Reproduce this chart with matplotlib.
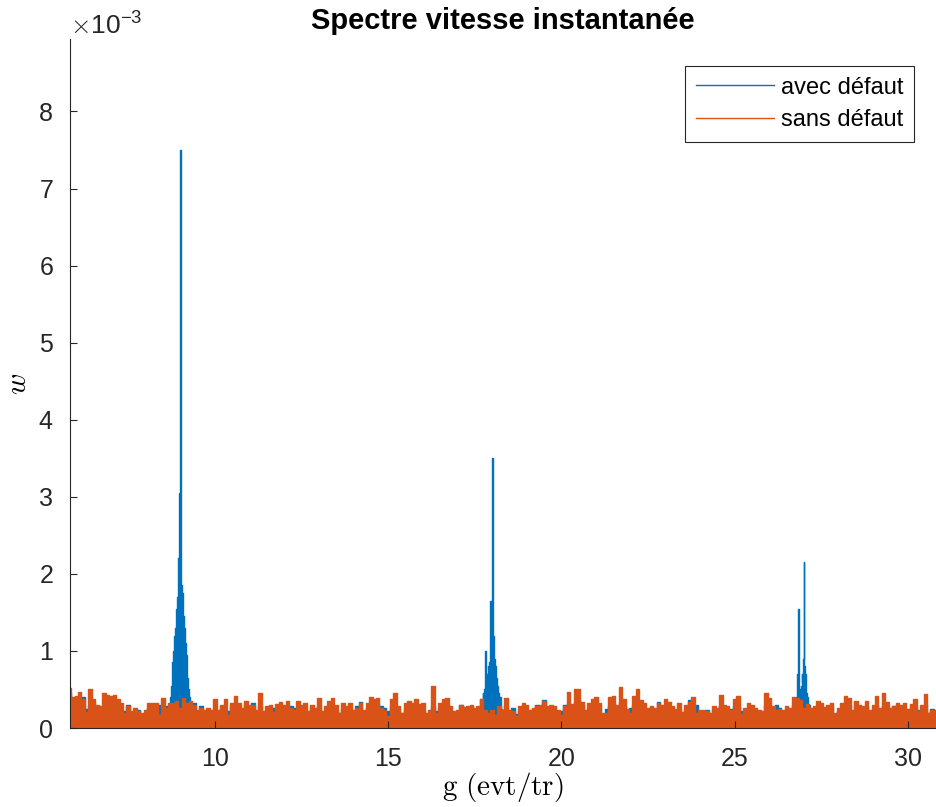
import numpy as np
import matplotlib
matplotlib.use('Agg')
import matplotlib.pyplot as plt
from matplotlib.ticker import ScalarFormatter

# frequency grid of the noise floor (evt/tr), 0.1 step
f_start, f_step = 5.8, 0.1

# "sans defaut" spectrum, values in 1e-3
sans_defaut = [
    0.52, 0.40, 0.41, 0.47, 0.38, 0.21, 0.51, 0.37, 0.30, 0.28,
    0.46, 0.43, 0.41, 0.43, 0.37, 0.32, 0.19, 0.28, 0.22, 0.26,
    0.22, 0.19, 0.24, 0.32, 0.33, 0.32, 0.17, 0.39, 0.26, 0.32,
    0.32, 0.35, 0.26, 0.39, 0.32, 0.35, 0.30, 0.24, 0.26, 0.24,
    0.26, 0.24, 0.37, 0.24, 0.30, 0.37, 0.17, 0.32, 0.41, 0.32,
    0.26,
    0.35, 0.30, 0.30, 0.24, 0.45, 0.22, 0.28, 0.30, 0.21, 0.31,
    0.34, 0.30, 0.35, 0.26, 0.23, 0.35, 0.30, 0.32, 0.22, 0.30,
    0.26, 0.39, 0.22, 0.28, 0.35, 0.39, 0.30, 0.19, 0.33, 0.28,
    0.33, 0.24, 0.26, 0.32, 0.24, 0.32, 0.40, 0.38, 0.39, 0.26,
    0.24, 0.15, 0.37, 0.45, 0.28, 0.20, 0.32, 0.35, 0.33,
    0.37, 0.31, 0.32, 0.20, 0.24, 0.54, 0.20, 0.32, 0.37, 0.39,
    0.28, 0.22, 0.24, 0.30, 0.27, 0.28, 0.30, 0.26, 0.28, 0.37,
    0.24, 0.20, 0.24, 0.17, 0.28, 0.23, 0.39, 0.24, 0.22, 0.15,
    0.28, 0.33, 0.30, 0.24, 0.26, 0.28, 0.30, 0.35, 0.28, 0.30,
    0.28, 0.24, 0.17, 0.28, 0.47, 0.31, 0.50, 0.51, 0.34, 0.24,
    0.32, 0.37, 0.40, 0.32, 0.19, 0.20, 0.40, 0.42, 0.30, 0.53,
    0.37, 0.25, 0.19, 0.42, 0.50, 0.36, 0.32, 0.26, 0.28, 0.26,
    0.33, 0.30, 0.37, 0.34, 0.28, 0.25, 0.32, 0.21, 0.30, 0.34,
    0.40, 0.20, 0.24, 0.24, 0.22, 0.19, 0.28, 0.26, 0.43, 0.30,
    0.28, 0.24, 0.37, 0.42, 0.18, 0.26, 0.33, 0.30, 0.26,
    0.24, 0.22, 0.46, 0.39, 0.28, 0.24, 0.25, 0.24, 0.28, 0.26,
    0.40, 0.39, 0.36, 0.26, 0.31, 0.26, 0.28, 0.35, 0.32, 0.27,
    0.30, 0.33, 0.20, 0.26, 0.32, 0.41, 0.39, 0.23, 0.35, 0.30,
    0.28, 0.35, 0.24, 0.30, 0.41, 0.26, 0.45, 0.34, 0.26, 0.28,
    0.32, 0.30, 0.32, 0.25, 0.31, 0.38, 0.22, 0.30, 0.44, 0.20,
    0.24, 0.24,
]

# "avec defaut" noise floor on the same grid, values in 1e-3
avec_defaut_bruit = [
    0.45, 0.35, 0.38, 0.40, 0.40, 0.25, 0.30, 0.32, 0.26, 0.22,
    0.30, 0.35, 0.30, 0.28, 0.25, 0.24, 0.22, 0.30, 0.20, 0.22,
    0.24, 0.18, 0.20, 0.26, 0.22, 0.28, 0.30, 0.26, 0.28, 0.25,
    0.30, 0.30, 0.30, 0.30, 0.30, 0.30, 0.33, 0.22, 0.28, 0.20,
    0.24, 0.22, 0.25, 0.22, 0.26, 0.24, 0.22, 0.28, 0.30, 0.25,
    0.24,
    0.30, 0.26, 0.32, 0.20, 0.28, 0.20, 0.24, 0.26, 0.26, 0.24,
    0.26, 0.24, 0.28, 0.28, 0.26, 0.26, 0.22, 0.24, 0.20, 0.26,
    0.22, 0.28, 0.20, 0.24, 0.28, 0.30, 0.24, 0.20, 0.26, 0.24,
    0.26, 0.22, 0.28, 0.34, 0.22, 0.26, 0.30, 0.28, 0.32, 0.28,
    0.26, 0.22, 0.28, 0.30, 0.22, 0.20, 0.26, 0.28, 0.26,
    0.30, 0.26, 0.24, 0.18, 0.20, 0.28, 0.22, 0.26, 0.28, 0.30,
    0.24, 0.20, 0.22, 0.30, 0.24, 0.26, 0.28, 0.22, 0.26, 0.30,
    0.30, 0.30, 0.30, 0.30, 0.30, 0.24, 0.30, 0.22, 0.26,
    0.18, 0.24, 0.26, 0.24, 0.22, 0.24, 0.30, 0.24, 0.36, 0.24,
    0.26, 0.24, 0.22, 0.22, 0.30, 0.32, 0.26, 0.34, 0.36, 0.30,
    0.22,
    0.26, 0.30, 0.32, 0.26, 0.18, 0.25, 0.30, 0.32, 0.26, 0.34,
    0.28, 0.22, 0.26, 0.30, 0.32, 0.28, 0.26, 0.22, 0.24, 0.24,
    0.34, 0.26, 0.30, 0.28, 0.24, 0.22, 0.24, 0.20, 0.24, 0.36,
    0.30, 0.30, 0.22, 0.20, 0.24, 0.18, 0.24, 0.22, 0.30, 0.26,
    0.24, 0.25, 0.28, 0.30, 0.22, 0.22, 0.26, 0.24, 0.22,
    0.22, 0.20, 0.30, 0.30, 0.26, 0.30, 0.26, 0.22, 0.24, 0.22,
    0.30, 0.30, 0.30, 0.30, 0.30, 0.22, 0.24, 0.28, 0.26, 0.24,
    0.26, 0.28, 0.18, 0.22, 0.26, 0.30, 0.30, 0.20, 0.28, 0.24,
    0.24, 0.28, 0.22, 0.24, 0.30, 0.22, 0.30, 0.26, 0.22, 0.29,
    0.26, 0.24, 0.26, 0.22, 0.26, 0.28, 0.23, 0.24, 0.30, 0.20,
    0.25, 0.22,
]

# defect harmonics of "avec defaut" (start freq, 0.02 step), values in 1e-3
pic_step = 0.02
pic1_start = 8.70
pic1 = [0.30, 0.40, 0.55, 0.70, 0.85, 1.00, 1.10, 1.20, 1.30, 1.40,
        1.55, 1.70, 1.80, 2.20, 3.05, 7.50, 2.20, 1.85, 1.75, 1.60,
        1.45, 1.30, 1.20, 1.10, 0.95, 0.80, 0.65, 0.50, 0.40, 0.35,
        0.30]
pic2_start = 17.70
pic2 = [0.38, 0.30, 0.45, 0.40, 0.50, 0.60, 1.00, 0.55, 0.70, 0.65,
        0.80, 0.85, 0.90, 1.65, 1.10, 1.45, 3.50, 1.20, 0.90, 0.85,
        0.80, 0.65, 0.60, 0.55, 0.45, 0.40, 0.35, 0.40, 0.25]
pic3_start = 26.76
pic3 = [0.30, 0.40, 0.45, 0.70, 1.55, 0.55, 0.45, 0.50, 0.55, 0.70,
        0.60, 0.90, 2.15, 0.80, 0.70, 0.55, 0.45, 0.40, 0.30]

BLUE = '#0072BD'
ORANGE = '#D95319'
DARK = '#262626'

# build the frequency axes
f_grid = np.round(f_start + f_step * np.arange(len(sans_defaut)), 2)
y_sans = np.array(sans_defaut) * 1e-3

f_av = f_grid[:len(avec_defaut_bruit)].copy()
y_av = np.array(avec_defaut_bruit[:len(f_av)]) * 1e-3
keep = np.ones(len(f_av), dtype=bool)
pf_list, py_list = [], []
for start, vals in [(pic1_start, pic1), (pic2_start, pic2), (pic3_start, pic3)]:
    pf = np.round(start + pic_step * np.arange(len(vals)), 3)
    keep &= ~((f_av >= pf[0]) & (f_av <= pf[-1]))
    pf_list.append(pf)
    py_list.append(np.array(vals) * 1e-3)
f_av = np.concatenate([f_av[keep]] + pf_list)
y_av = np.concatenate([y_av[keep]] + py_list)
order = np.argsort(f_av)
f_av, y_av = f_av[order], y_av[order]

plt.rcParams['font.family'] = ['Liberation Sans', 'DejaVu Sans']
plt.rcParams['mathtext.fontset'] = 'cm'
plt.rcParams['axes.unicode_minus'] = False

fig = plt.figure(figsize=(9.36, 8.07), dpi=100)
ax = fig.add_axes([70 / 936, 79 / 807, 866 / 936, 689 / 807])

ax.fill_between(f_av, 0, y_av, step='mid', color=BLUE, linewidth=0, zorder=1.0)
ax.plot(f_av, y_av, drawstyle='steps-mid', color=BLUE, linewidth=1.0,
        label='avec défaut', zorder=1.1)
ax.fill_between(f_grid, 0, y_sans, step='mid', color=ORANGE, linewidth=0, zorder=1.2)
ax.plot(f_grid, y_sans, drawstyle='steps-mid', color=ORANGE, linewidth=1.0,
        label='sans défaut', zorder=1.3)

ax.set_xlim(5.82, 30.81)
ax.set_ylim(0, 8.94e-3)
ax.set_xticks([10, 15, 20, 25, 30])
ax.set_yticks(np.arange(0, 9) * 1e-3)

fmt = ScalarFormatter(useMathText=True)
fmt.set_powerlimits((-2, 2))
ax.yaxis.set_major_formatter(fmt)
ax.yaxis.get_offset_text().set_fontsize(19)
ax.yaxis.get_offset_text().set_color(DARK)

ax.tick_params(direction='in', length=5, width=0.8, labelsize=18, colors=DARK)
ax.tick_params(axis='x', pad=14)
ax.tick_params(axis='y', pad=12)
ax.spines['top'].set_visible(False)
ax.spines['right'].set_visible(False)
for s in ['left', 'bottom']:
    ax.spines[s].set_color(DARK)
    ax.spines[s].set_linewidth(0.8)

ax.set_title('Spectre vitesse instantanée', fontsize=21, fontweight='bold', pad=7)
ax.set_xlabel(r'$\mathrm{g\ (evt/tr)}$', fontsize=21, labelpad=-1)
ax.set_ylabel(r'$w$', fontsize=21)
ax.yaxis.set_label_coords(-0.044, 0.5)

leg = ax.legend(loc='upper right', bbox_to_anchor=(0.9746, 0.9608), fontsize=17,
                frameon=True, fancybox=False, framealpha=1, edgecolor=DARK,
                handlelength=3.3, borderpad=0.45, labelspacing=0.45,
                handletextpad=0.3, borderaxespad=0)
leg.get_frame().set_linewidth(0.8)

fig.savefig('out.png', dpi=100)
